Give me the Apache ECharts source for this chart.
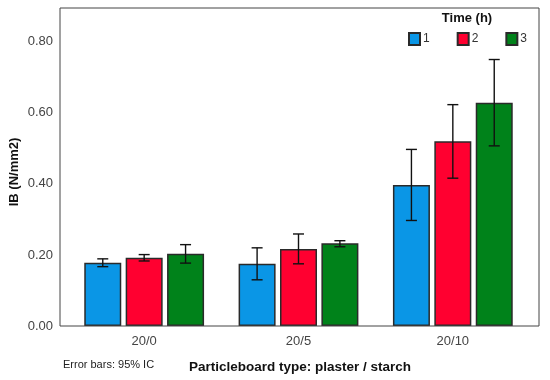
<!DOCTYPE html>
<html><head><meta charset="utf-8">
<script src="https://cdn.jsdelivr.net/npm/echarts@6/dist/echarts.min.js"></script>
<style>html,body{margin:0;padding:0;background:#fff}#c{width:550px;height:380px}</style>
</head><body><div id="c"></div>
<script>
const categories = ['20/0', '20/5', '20/10'];
const seriesNames = ['1', '2', '3'];
const time1 = [0.178, 0.175, 0.397];
const time2 = [0.192, 0.217, 0.520];
const time3 = [0.203, 0.233, 0.628];
const time1Low = [0.167, 0.130, 0.297];
const time1High = [0.189, 0.220, 0.497];
const time2Low = [0.183, 0.175, 0.416];
const time2High = [0.201, 0.259, 0.623];
const time3Low = [0.177, 0.223, 0.507];
const time3High = [0.229, 0.240, 0.750];
const yTicks = [0, 0.2, 0.4, 0.6, 0.8];

const colors = ['#0a96e6', '#ff0030', '#00821a'];
const values = [time1, time2, time3];
const lows = [time1Low, time2Low, time3Low];
const highs = [time1High, time2High, time3High];
const BW = 37, GAP = 4.4, YMAX = 0.895;
const font = 'Liberation Sans, Arial, sans-serif';

const chart = echarts.init(document.getElementById('c'), null, {renderer: 'canvas'});
const series = [];
values.forEach((v, i) => {
  series.push({
    type: 'bar', name: seriesNames[i], xAxisIndex: 0, yAxisIndex: 0,
    data: v, barWidth: BW, barGap: (GAP / BW * 100).toFixed(1) + '%',
    itemStyle: {color: colors[i], borderColor: '#2a2a2a', borderWidth: 1.5},
    emphasis: {disabled: true}
  });
});
values.forEach((v, i) => {
  const off = (i - 1) * (BW + GAP);
  series.push({
    type: 'custom', xAxisIndex: 0, yAxisIndex: 0, z: 5,
    data: categories.map((c, k) => [k, lows[i][k], highs[i][k]]),
    renderItem: function (params, api) {
      const lo = api.coord([api.value(0), api.value(1)]);
      const hi = api.coord([api.value(0), api.value(2)]);
      const x = lo[0] + off, cw = 5.5;
      const st = {stroke: '#111', lineWidth: 1.4};
      return {type: 'group', children: [
        {type: 'line', shape: {x1: x, y1: lo[1], x2: x, y2: hi[1]}, style: st},
        {type: 'line', shape: {x1: x - cw, y1: lo[1], x2: x + cw, y2: lo[1]}, style: st},
        {type: 'line', shape: {x1: x - cw, y1: hi[1], x2: x + cw, y2: hi[1]}, style: st}
      ]};
    }
  });
});

chart.setOption({
  animation: false,
  textStyle: {fontFamily: font},
  grid: [
    {left: 67, right: 20, top: 8, bottom: 54},
    {left: 60, right: 11, top: 8, bottom: 54, show: true, borderColor: '#444', borderWidth: 1, backgroundColor: 'transparent', z: 3}
  ],
  legend: {
    data: seriesNames, left: 403, top: 27, icon: 'rect', itemWidth: 11, itemHeight: 12, itemGap: 27,
    textStyle: {fontSize: 12, color: '#333', fontFamily: font, padding: [0, 0, 0, -2]},
    selectedMode: false
  },
  xAxis: [
    {type: 'category', gridIndex: 0, data: categories,
     axisLine: {show: false}, axisTick: {show: false},
     axisLabel: {fontSize: 13, color: '#444', margin: 9, fontFamily: font}},
    {type: 'value', gridIndex: 1, show: false}
  ],
  yAxis: [
    {type: 'value', gridIndex: 0, min: 0, max: YMAX, show: false, splitLine: {show: false}},
    {type: 'value', gridIndex: 1, min: 0, max: YMAX, interval: 0.2,
     axisLine: {show: false}, axisTick: {show: false}, splitLine: {show: false},
     axisLabel: {fontSize: 13, color: '#444', margin: 7, showMaxLabel: false, fontFamily: font,
       formatter: v => yTicks.some(t => Math.abs(t - v) < 1e-6) ? v.toFixed(2) : ''}}
  ],
  series: series,
  graphic: [
    {type: 'text', x: 14, y: 172, rotation: Math.PI / 2,
     style: {text: 'IB (N/mm2)', font: 'bold 13px ' + font, fill: '#111', textAlign: 'center', textVerticalAlign: 'middle'}},
    {type: 'text', style: {text: 'Particleboard type: plaster / starch', font: 'bold 13.5px ' + font, fill: '#111', textAlign: 'center', textVerticalAlign: 'middle', x: 300, y: 367}},
    {type: 'text', style: {text: 'Error bars: 95% IC', font: '11px ' + font, fill: '#222', textAlign: 'left', textVerticalAlign: 'middle', x: 63, y: 365}},
    {type: 'text', style: {text: 'Time (h)', font: 'bold 13px ' + font, fill: '#111', textAlign: 'center', textVerticalAlign: 'middle', x: 467, y: 18}}
  ]
});
</script></body></html>
